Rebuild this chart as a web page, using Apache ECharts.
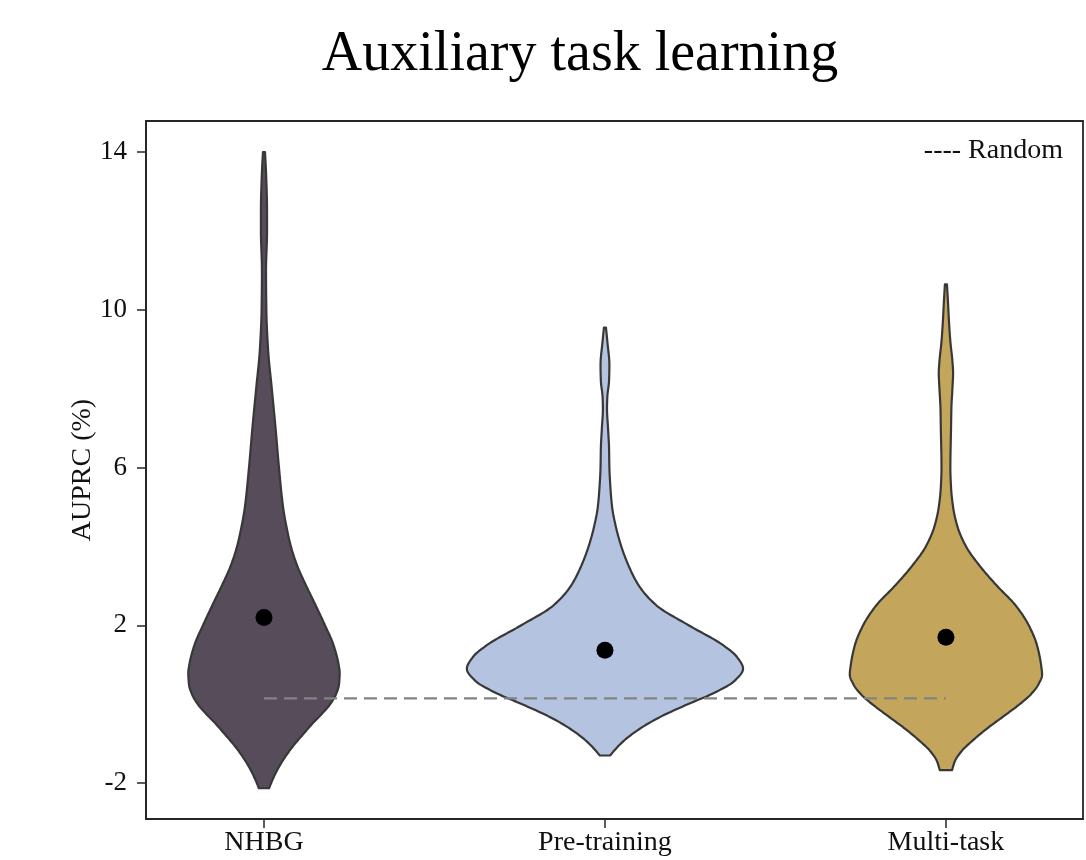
<!DOCTYPE html>
<html>
<head>
<meta charset="utf-8">
<title>Auxiliary task learning</title>
<script src="https://cdn.jsdelivr.net/npm/echarts@6/dist/echarts.min.js"></script>
<style>
  html, body { margin: 0; padding: 0; background: #fff; }
  #chart { width: 1086px; height: 860px; }
</style>
</head>
<body>
<div id="chart"></div>
<script>
// Groups compared on the x axis
const categories = ['NHBG', 'Pre-training', 'Multi-task'];
// Mean AUPRC (%) per group (black dots)
const means = [2.2, 1.37, 1.7];
// AUPRC of a random classifier (dashed line)
const randomLevel = 0.15;
// Y tick labels
const yTicks = [-2, 2, 6, 10, 14];

// Violin outlines: AUPRC levels (top to bottom) and half-width of the
// density at each level, in x-axis units
const nhbgLevels = [14.0, 13.5, 12.5, 12.0, 11.0, 10.0, 9.0, 8.0, 7.0, 6.0, 5.0, 4.5, 4.0, 3.5, 3.0, 2.5, 2.0, 1.5, 1.0, 0.8, 0.5, 0.25, 0.0, -0.25, -0.5, -0.75, -1.0, -1.25, -1.5, -1.75, -2.0, -2.13];
const nhbgHalfWidth = [0.003, 0.006, 0.009, 0.009, 0.006, 0.007, 0.012, 0.023, 0.034, 0.044, 0.056, 0.066, 0.079, 0.098, 0.124, 0.152, 0.179, 0.204, 0.219, 0.222, 0.220, 0.211, 0.194, 0.169, 0.141, 0.116, 0.091, 0.069, 0.050, 0.034, 0.021, 0.015];

const pretrainLevels = [9.55, 9.2, 8.6, 8.2, 7.8, 7.5, 7.0, 6.5, 6.0, 5.5, 5.0, 4.5, 4.0, 3.5, 3.0, 2.5, 2.0, 1.5, 1.2, 0.9, 0.6, 0.3, 0.0, -0.3, -0.6, -0.9, -1.1, -1.3];
const pretrainHalfWidth = [0.003, 0.007, 0.013, 0.012, 0.007, 0.006, 0.009, 0.012, 0.013, 0.016, 0.021, 0.032, 0.048, 0.070, 0.100, 0.152, 0.246, 0.346, 0.387, 0.405, 0.381, 0.323, 0.243, 0.167, 0.106, 0.059, 0.035, 0.015];

const multitaskLevels = [10.65, 10.2, 9.7, 9.2, 8.7, 8.4, 8.0, 7.5, 7.0, 6.0, 5.5, 5.0, 4.5, 4.0, 3.5, 3.0, 2.5, 2.0, 1.5, 1.0, 0.75, 0.5, 0.25, 0.0, -0.3, -0.6, -0.9, -1.2, -1.45, -1.67];
const multitaskHalfWidth = [0.003, 0.006, 0.009, 0.013, 0.019, 0.021, 0.019, 0.016, 0.015, 0.013, 0.015, 0.021, 0.034, 0.059, 0.100, 0.150, 0.205, 0.243, 0.267, 0.279, 0.282, 0.271, 0.249, 0.216, 0.170, 0.123, 0.081, 0.045, 0.026, 0.018];

const violinLevels = [nhbgLevels, pretrainLevels, multitaskLevels];
const violinHalfWidths = [nhbgHalfWidth, pretrainHalfWidth, multitaskHalfWidth];
const violinColors = ['#574c5a', '#b4c4e0', '#c3a65b'];

const serif = '"Liberation Serif", "DejaVu Serif", serif';

// Monotone cubic (Fritsch-Butland) curve through the outline knots,
// so the violin edge is smooth without overshooting.
function monotoneCurve(xs, ys) {
  const n = xs.length;
  const h = [], d = [];
  for (let k = 0; k < n - 1; k++) {
    h.push(xs[k + 1] - xs[k]);
    d.push((ys[k + 1] - ys[k]) / h[k]);
  }
  const m = new Array(n);
  m[0] = d[0];
  m[n - 1] = d[n - 2];
  for (let k = 1; k < n - 1; k++) {
    if (d[k - 1] * d[k] <= 0) {
      m[k] = 0;
    } else {
      m[k] = 3 * (h[k - 1] + h[k]) /
        ((2 * h[k] + h[k - 1]) / d[k - 1] + (h[k] + 2 * h[k - 1]) / d[k]);
    }
  }
  return function (x) {
    let k = 0;
    while (k < n - 2 && x > xs[k + 1]) k++;
    const t = (x - xs[k]) / h[k];
    const t2 = t * t, t3 = t2 * t;
    return (2 * t3 - 3 * t2 + 1) * ys[k] + (t3 - 2 * t2 + t) * h[k] * m[k] +
      (-2 * t3 + 3 * t2) * ys[k + 1] + (t3 - t2) * h[k] * m[k + 1];
  };
}

const chart = echarts.init(document.getElementById('chart'), null, { renderer: 'canvas' });

function renderViolin(params, api) {
  const i = api.value(0);
  const lv = violinLevels[i].slice().reverse();
  const hw = violinHalfWidths[i].slice().reverse();
  const curve = monotoneCurve(lv, hw);
  const lo = lv[0], hi = lv[lv.length - 1];
  const steps = Math.ceil((hi - lo) / 0.02);
  const right = [], left = [];
  for (let s = 0; s <= steps; s++) {
    const v = lo + (hi - lo) * s / steps;
    const w = Math.max(curve(v), 0.002);
    right.push(api.coord([i + w, v]));
    left.push(api.coord([i - w, v]));
  }
  const pts = right.concat(left.reverse());
  return {
    type: 'polygon',
    shape: { points: pts },
    style: {
      fill: violinColors[i],
      stroke: '#383838',
      lineWidth: 2.2,
      lineJoin: 'round'
    }
  };
}

const option = {
  backgroundColor: '#ffffff',
  animation: false,
  title: [
    {
      text: 'Auxiliary task learning',
      left: 575,
      top: 22,
      textAlign: 'center',
      textStyle: { fontFamily: serif, fontWeight: 'normal', fontSize: 56, color: '#000' }
    },
    {
      text: '---- Random',
      right: 18,
      top: 132,
      textStyle: { fontFamily: serif, fontWeight: 'normal', fontSize: 28, color: '#111' }
    }
  ],
  grid: {
    left: 146,
    right: 3,
    top: 121,
    bottom: 41,
    show: true,
    borderColor: '#262626',
    borderWidth: 1.8,
    containLabel: false,
    outerBoundsMode: 'none'
  },
  xAxis: {
    type: 'value',
    min: -0.346,
    max: 2.402,
    splitLine: { show: false },
    axisLine: { show: true, onZero: false, lineStyle: { color: '#262626', width: 1.8 } },
    axisTick: { show: true, length: 9, customValues: categories.map((c, i) => i), lineStyle: { color: '#262626', width: 1.5 } },
    axisLabel: {
      customValues: categories.map((c, i) => i),
      formatter: v => categories[Math.round(v)],
      fontFamily: serif,
      fontSize: 28,
      color: '#111',
      margin: 10
    }
  },
  yAxis: {
    type: 'value',
    min: -2.91,
    max: 14.79,
    name: 'AUPRC (%)',
    nameLocation: 'middle',
    nameGap: 49,
    nameMoveOverlap: false,
    nameTextStyle: { fontFamily: serif, fontSize: 28, color: '#111' },
    splitLine: { show: false },
    axisLine: { show: true, onZero: false, lineStyle: { color: '#262626', width: 1.8 } },
    axisTick: { show: true, length: 9, customValues: yTicks, lineStyle: { color: '#262626', width: 1.5 } },
    axisLabel: {
      customValues: yTicks,
      fontFamily: serif,
      fontSize: 27,
      color: '#111',
      margin: 19
    }
  },
  series: [
    {
      name: 'violins',
      type: 'custom',
      renderItem: renderViolin,
      data: categories.map((c, i) => [i, Math.max(...violinLevels[i])]),
      encode: { x: 0, y: 1 },
      clip: false,
      z: 2
    },
    {
      name: 'Random',
      type: 'line',
      data: [[0, randomLevel], [categories.length - 1, randomLevel]],
      symbol: 'none',
      lineStyle: { color: '#838383', width: 2.2, type: [13, 7] },
      z: 3
    },
    {
      name: 'Mean',
      type: 'scatter',
      data: means.map((m, i) => [i, m]),
      symbol: 'circle',
      symbolSize: 17,
      itemStyle: { color: '#000', opacity: 1 },
      z: 4
    }
  ]
};

chart.setOption(option);
</script>
</body>
</html>
